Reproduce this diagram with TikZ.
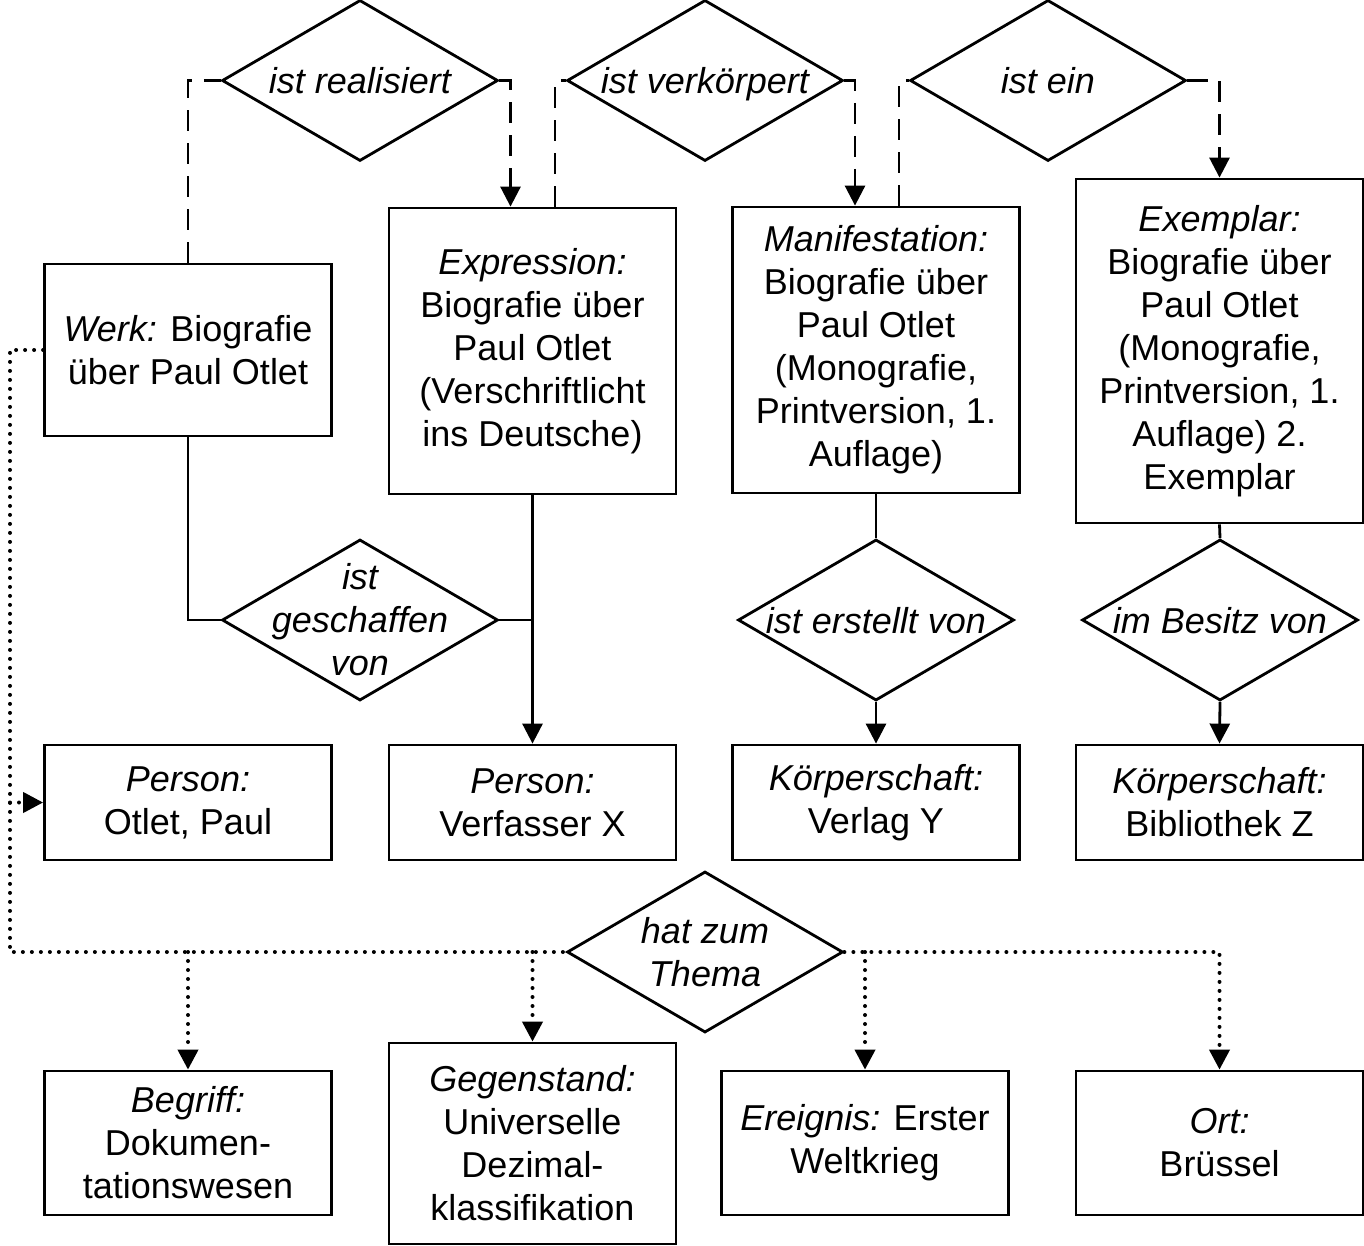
\documentclass[tikz,border=0pt]{standalone}
\usepackage{fontspec}
\setmainfont{Liberation Sans}
\usetikzlibrary{shapes.geometric,arrows.meta,calc}
\begin{document}
\begin{tikzpicture}[x=1pt,y=-1pt,
  every node/.style={font=\fontsize{36}{43}\selectfont},
  box/.style={draw,line width=2.8pt,rectangle,inner sep=0pt,align=center,minimum width=287pt},
  rel/.style={draw,line width=2.8pt,diamond,inner sep=0pt,minimum width=276pt,minimum height=161pt},
  conn/.style={line width=2.8pt},
  dsh/.style={conn,dash pattern=on 21pt off 12pt},
  dot/.style={line width=4pt,line cap=round,dash pattern=on 0pt off 9pt},
  arr/.style={-{Triangle[length=20pt,width=20pt]}},
  rl/.style={font=\fontsize{36}{43}\selectfont\itshape,align=center},
  rl1/.style={rl,text height=26pt,text depth=0pt}
]
\useasboundingbox (0,0) rectangle (1364,1246);
% boxes
\node[box,minimum height=172pt] (werk) at (188,350) {{\itshape Werk:} Biografie\\über Paul Otlet};
\node[box,minimum height=286pt] (expr) at (532.5,351) {\textit{Expression:}\\Biografie über\\Paul Otlet\\(Verschriftlicht\\ins Deutsche)};
\node[box,minimum height=286pt] (man) at (876,350) {\textit{Manifestation:}\\Biografie über\\Paul Otlet\\(Monografie,\\Printversion, 1.\\Auflage)};
\node[box,minimum height=344pt] (ex) at (1219.5,351) {\textit{Exemplar:}\\Biografie über\\Paul Otlet\\(Monografie,\\Printversion, 1.\\Auflage) 2.\\Exemplar};
\node[box,minimum height=115pt] (p1) at (188,802.5) {\textit{Person:}\\Otlet, Paul};
\node[box,minimum height=115pt] (p2) at (532.5,802.5) {\textit{Person:}\\Verfasser X};
\node[box,minimum height=115pt] (k1) at (876,802.5) {\textit{Körperschaft:}\\Verlag Y};
\node[box,minimum height=115pt] (k2) at (1219.5,802.5) {\textit{Körperschaft:}\\Bibliothek Z};
\node[box,minimum height=144pt] (beg) at (188,1143) {\textit{Begriff:}\\Dokumen-\\tationswesen};
\node[box,minimum height=201pt] (geg) at (532.5,1143.5) {\textit{Gegenstand:}\\Universelle\\Dezimal-\\klassifikation};
\node[box,minimum height=144pt] (ere) at (865,1143) {{\itshape Ereignis:} Erster\\Weltkrieg};
\node[box,minimum height=144pt] (ort) at (1219.5,1143) {\textit{Ort:}\\Brüssel};
% diamonds
\node[rel,label={[rl1]center:ist realisiert}] (d1) at (360,80.5) {};
\node[rel,label={[rl1]center:ist verkörpert}] (d2) at (705,80.5) {};
\node[rel,label={[rl1]center:ist ein}] (d3) at (1048,80.5) {};
\node[rel,label={[rl]center:ist\\geschaffen\\von}] (d4) at (360,620) {};
\node[rel,label={[rl1]center:ist erstellt von}] (d5) at (876,620) {};
\node[rel,label={[rl1]center:im Besitz von}] (d6) at (1220,620) {};
\node[rel,label={[rl]center:hat zum\\Thema}] (d7) at (705,952) {};
% dashed
\draw[dsh] (werk.north) |- (d1.west);
\draw[dsh,arr] (d1.east) -| ($(expr.north)+(-22,0)$);
\draw[dsh] ($(expr.north)+(22.5,0)$) |- (d2.west);
\draw[dsh,arr] (d2.east) -| ($(man.north)+(-21,0)$);
\draw[dsh] ($(man.north)+(23,0)$) |- (d3.west);
\draw[dsh,arr] (d3.east) -| (ex.north);
% solid
\draw[conn] (werk.south) |- (d4.west);
\draw[conn] (d4.east) -- (d4.east -| expr.south);
\draw[conn,arr] (expr.south) -- (p2.north);
\draw[conn] (man.south) -- (d5.north);
\draw[conn,arr] (d5.south) -- (k1.north);
\draw[conn] (ex.south) -- (d6.north);
\draw[conn,arr] (d6.south) -- (k2.north);
% dotted
\coordinate (c1) at (10,952);
\coordinate (c2) at (10,802.5);
\draw[dot] (werk.west) -| (c1) -- (d7.west);
\draw[dot,arr] (c2) -- (p1.west);
\draw[dot,arr] (c1 -| beg.north) -- (beg.north);
\draw[dot,arr] (c1 -| geg.north) -- (geg.north);
\draw[dot,arr] (d7.east) -| (ort.north);
\draw[dot,arr] (d7.east -| ere.north) -- (ere.north);
\end{tikzpicture}
\end{document}
